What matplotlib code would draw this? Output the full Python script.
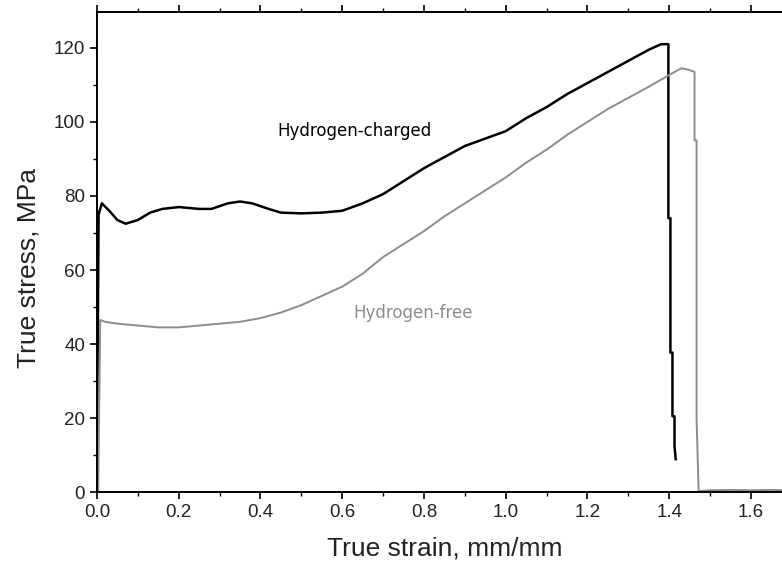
import matplotlib.pyplot as plt
from matplotlib.ticker import MultipleLocator

plt.rcParams["font.family"] = ["Liberation Sans", "DejaVu Sans"]

# Hydrogen-charged specimen (black)
charged_strain = [0.0, 0.004, 0.012, 0.03, 0.05, 0.07, 0.1, 0.13, 0.16, 0.2,
                  0.25, 0.28, 0.32, 0.35, 0.38, 0.42, 0.45, 0.5, 0.55, 0.6,
                  0.65, 0.7, 0.75, 0.8, 0.85, 0.9, 0.95, 1.0, 1.05, 1.1,
                  1.15, 1.2, 1.25, 1.3, 1.35, 1.38, 1.398, 1.398, 1.403, 1.403,
                  1.408, 1.408, 1.413, 1.413, 1.416]
charged_stress = [10, 75, 78, 76, 73.5, 72.5, 73.5, 75.5, 76.5, 77,
                  76.5, 76.5, 78, 78.5, 78, 76.5, 75.5, 75.3, 75.5, 76,
                  78, 80.5, 84, 87.5, 90.5, 93.5, 95.5, 97.5, 101, 104,
                  107.5, 110.5, 113.5, 116.5, 119.5, 121, 121, 74, 74, 37.7,
                  37.7, 20.5, 20.5, 12.4, 8.9]

# Hydrogen-free specimen (grey)
free_strain = [0.003, 0.008, 0.02, 0.05, 0.1, 0.15, 0.2, 0.25, 0.3, 0.35,
               0.4, 0.45, 0.5, 0.55, 0.6, 0.65, 0.7, 0.75, 0.8, 0.85,
               0.9, 0.95, 1.0, 1.05, 1.1, 1.15, 1.2, 1.25, 1.3, 1.35,
               1.4, 1.43, 1.45, 1.462, 1.462, 1.467, 1.467, 1.472, 1.5, 1.55,
               1.6, 1.65, 1.68]
free_stress = [0, 46.5, 46, 45.5, 45, 44.5, 44.5, 45, 45.5, 46,
               47, 48.5, 50.5, 53, 55.5, 59, 63.5, 67, 70.5, 74.5,
               78, 81.5, 85, 89, 92.5, 96.5, 100, 103.5, 106.5, 109.5,
               112.7, 114.5, 114, 113.5, 95, 95, 20, 0.3, 0.5, 0.6,
               0.5, 0.6, 0.5]

fig = plt.figure(figsize=(7.82, 5.65), dpi=100)
ax = fig.add_axes([0.124, 0.129, 0.876, 0.8498])

ax.plot(charged_strain, charged_stress, color="black", lw=1.8)
ax.plot(free_strain, free_stress, color="#8c8c8c", lw=1.4)

ax.text(0.631, 97.5, "Hydrogen-charged", fontsize=12, color="black",
        ha="center", va="center", family="DejaVu Sans")
ax.text(0.773, 48.3, "Hydrogen-free", fontsize=12, color="#8c8c8c",
        ha="center", va="center", family="DejaVu Sans")

ax.set_xlim(0, 1.676)
ax.set_ylim(0, 129.7)
ax.xaxis.set_major_locator(MultipleLocator(0.2))
ax.xaxis.set_minor_locator(MultipleLocator(0.1))
ax.yaxis.set_major_locator(MultipleLocator(20))
ax.yaxis.set_minor_locator(MultipleLocator(10))
ax.xaxis.set_major_formatter(plt.FuncFormatter(lambda v, p: f"{v:.1f}"))

ax.tick_params(which="major", direction="out", length=5, width=1.2,
               labelsize=13.5, colors="black", labelcolor="#222222")
ax.tick_params(which="minor", direction="out", length=3, width=1)
ax.tick_params(axis="x", which="both", top=True, labeltop=False)
ax.spines["right"].set_visible(False)
for side in ["left", "bottom", "top"]:
    ax.spines[side].set_linewidth(1.4)

ax.set_xlabel("True strain, mm/mm", fontsize=19, color="#222222")
ax.set_ylabel("True stress, MPa", fontsize=19, color="#222222")
ax.xaxis.set_label_coords(0.507, -0.093)
ax.yaxis.set_label_coords(-0.083, 0.467)

fig.savefig("out.png", dpi=100)
